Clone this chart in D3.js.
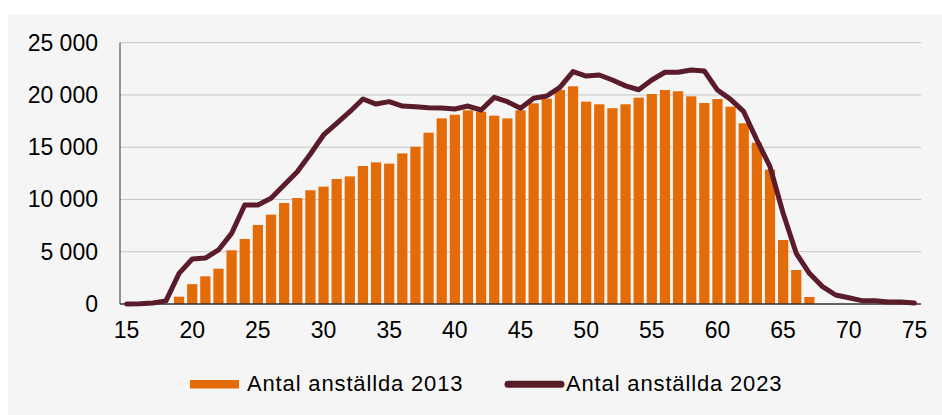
<!DOCTYPE html>
<html><head><meta charset="utf-8">
<script src="https://cdn.jsdelivr.net/npm/d3@7"></script>
<style>
html,body{margin:0;padding:0;background:#fff;}
svg{display:block;}
text{font-family:"Liberation Sans",Arial,sans-serif;fill:#000;}
</style></head>
<body>
<svg id="chart" width="942" height="415"></svg>
<script>
// ---- data ----
const ages = d3.range(15, 76); // 15..75
const xTickLabels = [15, 20, 25, 30, 35, 40, 45, 50, 55, 60, 65, 70, 75];
const yTickValues = [0, 5000, 10000, 15000, 20000, 25000];
const seriesNames = ["Antal anställda 2013", "Antal anställda 2023"];
const values2013 = [
  0, 0, 0, 0, 700, 1900, 2650, 3380, 5140, 6220,          // 15-24
  7560, 8550, 9660, 10140, 10880, 11230, 11960, 12210, 13200, 13550, // 25-34
  13430, 14410, 15050, 16390, 17760, 18110, 18530, 18400, 18020, 17760, // 35-44
  18530, 19200, 19640, 20470, 20830, 19360, 19110, 18730, 19110, 19740, // 45-54
  20090, 20470, 20350, 19870, 19230, 19610, 18880, 17290, 15430, 12850, // 55-64
  6120, 3250, 670, 0, 0, 0, 0, 0, 0, 0, 0                   // 65-75
];
const values2023 = [
  0, 30, 100, 300, 2930, 4300, 4400, 5170, 6760, 9470,      // 15-24
  9470, 10110, 11390, 12660, 14350, 16170, 17290, 18400, 19610, 19130, // 25-34
  19360, 18940, 18880, 18780, 18750, 18660, 18940, 18560, 19770, 19360, // 35-44
  18720, 19680, 19900, 20730, 22230, 21810, 21910, 21430, 20870, 20500, // 45-54
  21430, 22170, 22170, 22390, 22290, 20470, 19580, 18400, 15690, 13140, // 55-64
  8680, 4850, 2940, 1660, 860, 600, 320, 300, 200, 200, 100 // 65-75
];

// ---- layout ----
const svg = d3.select("#chart");
const W = 942, H = 415;
const plot = {left: 120, right: 921, top: 42.7, bottom: 304};
const colBar = "#e36c09", colLine = "#5a1b2b";

svg.append("rect").attr("x", 8).attr("y", 14).attr("width", W - 8).attr("height", H - 14).attr("fill", "#f5f5f5");

const x = d3.scaleBand().domain(ages).range([plot.left, plot.right]).paddingInner(0.22).paddingOuter(0.11);
const xc = d3.scaleBand().domain(ages).range([plot.left, plot.right]);
const y = d3.scaleLinear().domain([0, 25000]).range([plot.bottom, plot.top]);

const fmt = v => d3.format(",")(v).replace(/,/g, " ");

// gridlines
svg.append("g").selectAll("line").data(yTickValues.filter(v => v > 0)).join("line")
  .attr("x1", plot.left).attr("x2", plot.right)
  .attr("y1", d => y(d)).attr("y2", d => y(d))
  .attr("stroke", "#c4c4c4").attr("stroke-width", 1);

// y axis labels
const yAxis = d3.axisLeft(y).tickValues(yTickValues).tickFormat(fmt).tickSize(0).tickPadding(22);
const yg = svg.append("g").attr("transform", `translate(${plot.left},0)`).call(yAxis);
yg.select(".domain").remove();
yg.selectAll("text").style("font-size", "23px").style("font-family", '"Liberation Sans",Arial,sans-serif').attr("fill", "#000");

// bars
svg.append("g").selectAll("rect").data(ages.map((a, i) => ({a, v: values2013[i]})).filter(d => d.v > 0)).join("rect")
  .attr("x", d => x(d.a)).attr("width", x.bandwidth())
  .attr("y", d => y(d.v)).attr("height", d => y(0) - y(d.v))
  .attr("fill", colBar);

// axis lines
svg.append("line").attr("x1", plot.left).attr("x2", plot.left).attr("y1", plot.top).attr("y2", plot.bottom)
  .attr("stroke", "#333").attr("stroke-width", 1);
svg.append("line").attr("x1", plot.left).attr("x2", plot.right).attr("y1", plot.bottom).attr("y2", plot.bottom)
  .attr("stroke", "#333").attr("stroke-width", 1.3);

// line
const line = d3.line().x(d => xc(d.a) + xc.bandwidth() / 2).y(d => y(d.v)).curve(d3.curveLinear);
svg.append("path").datum(ages.map((a, i) => ({a, v: values2023[i]})))
  .attr("d", line).attr("fill", "none").attr("stroke", colLine)
  .attr("stroke-width", 5).attr("stroke-linejoin", "round").attr("stroke-linecap", "round");

// x axis labels
const xAxis = d3.axisBottom(xc).tickValues(xTickLabels).tickSize(0).tickPadding(18);
const xg = svg.append("g").attr("transform", `translate(0,${plot.bottom})`).call(xAxis);
xg.select(".domain").remove();
xg.selectAll("text").style("font-size", "23px").style("font-family", '"Liberation Sans",Arial,sans-serif').attr("fill", "#000");

// legend
const lg = svg.append("g");
lg.append("rect").attr("x", 190).attr("y", 380).attr("width", 49).attr("height", 8.5).attr("fill", colBar);
lg.append("text").attr("x", 247).attr("y", 391).style("font-size", "22px").style("letter-spacing", "0.85px").text(seriesNames[0]);
lg.append("line").attr("x1", 508).attr("x2", 561).attr("y1", 384.3).attr("y2", 384.3)
  .attr("stroke", colLine).attr("stroke-width", 7).attr("stroke-linecap", "round");
lg.append("text").attr("x", 566).attr("y", 391).style("font-size", "22px").style("letter-spacing", "0.85px").text(seriesNames[1]);
</script>
</body></html>
